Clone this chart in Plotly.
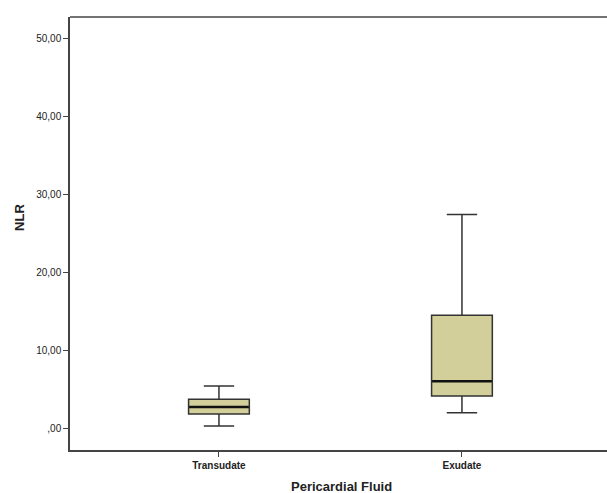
import plotly.graph_objects as go

categories = ["Transudate", "Exudate"]
lower_whisker = [0.38, 2.09]
q1 = [1.92, 4.23]
median = [2.82, 6.1]
q3 = [3.8, 14.58]
upper_whisker = [5.51, 27.5]
y_tick_vals = [0, 10, 20, 30, 40, 50]
y_tick_text = [",00", "10,00", "20,00", "30,00", "40,00", "50,00"]

fig = go.Figure()
fig.add_trace(go.Box(
    x=categories,
    q1=q1, median=median, q3=q3,
    lowerfence=lower_whisker, upperfence=upper_whisker,
    fillcolor="#D3CF9B",
    line=dict(color="#333333", width=1.5),
    width=0.25,
    whiskerwidth=0.5,
    boxpoints=False,
    hoverinfo="skip",
    showlegend=False,
))
# thicker median line (SPSS style)
fig.add_trace(go.Box(
    x=categories,
    q1=median, median=median, q3=median,
    lowerfence=median, upperfence=median,
    fillcolor="rgba(0,0,0,0)",
    line=dict(color="#111111", width=2.5),
    width=0.245,
    whiskerwidth=0,
    boxpoints=False,
    hoverinfo="skip",
    showlegend=False,
))

fig.update_layout(
    width=640, height=493,
    margin=dict(l=70, r=0, t=17, b=43),
    paper_bgcolor="white", plot_bgcolor="white",
    boxmode="overlay",
    font=dict(family="Arial, Liberation Sans", color="#222"),
    xaxis=dict(
        type="category", range=[-0.613, -0.613 + 570 / 243], automargin=False,
        showline=True, linecolor="#444", linewidth=1.5, mirror=False,
        showgrid=False, zeroline=False,
        tickvals=categories, ticktext=["<b>%s</b>" % c for c in categories],
        ticks="outside", ticklen=5, tickcolor="#444",
        tickfont=dict(size=10, color="#222"),
    ),
    yaxis=dict(
        range=[-2.7, 52.8], automargin=False,
        showline=True, linecolor="#444", linewidth=1.5, mirror=False,
        showgrid=False, zeroline=False,
        tickvals=y_tick_vals, ticktext=y_tick_text,
        ticks="outside", ticklen=5, tickcolor="#444",
        tickfont=dict(size=10, color="#222"),
    ),
    shapes=[dict(type="line", xref="paper", yref="paper", x0=0, x1=1, y0=1, y1=1,
                 line=dict(color="#444", width=1.5))],
    annotations=[
        dict(text="<b>Pericardial Fluid</b>", xref="paper", yref="paper",
             x=(341 - 70) / 570, xanchor="center", y=0, yanchor="top", yshift=-27,
             showarrow=False, font=dict(size=13)),
        dict(text="<b>NLR</b>", xref="paper", yref="paper",
             x=0, xanchor="center", xshift=-50, y=0.536, yanchor="middle",
             textangle=-90, showarrow=False, font=dict(size=13)),
    ],
)

fig.write_html("out.html", config={"displayModeBar": False},
               post_script="document.body.style.margin='0';document.body.style.overflow='hidden';")
